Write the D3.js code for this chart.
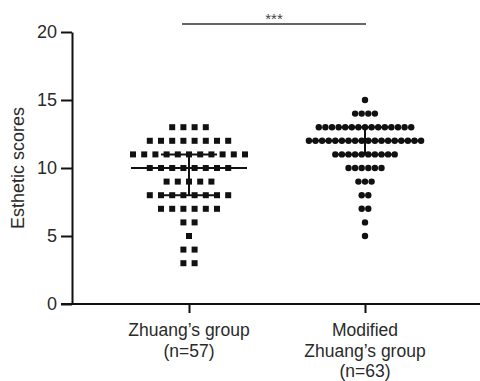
<!DOCTYPE html>
<html><head><meta charset="utf-8">
<script src="https://cdn.jsdelivr.net/npm/d3@7"></script>
<style>body{margin:0;background:#fff}svg{display:block}text{font-family:"Liberation Sans",Arial,sans-serif}</style>
</head><body>
<script>
const categories = ["Zhuang's group", "Modified Zhuang's group"];
const categoryLines = [["Zhuang\u2019s group", "(n=57)"], ["Modified", "Zhuang\u2019s group", "(n=63)"]];
const yTicks = [0, 5, 10, 15, 20];
// score rows and number of patients at each score
const g1Scores = [13, 12, 11, 10, 9, 8, 7, 6, 5, 4, 3];
const g1Counts = [4, 8, 11, 8, 5, 8, 6, 2, 1, 2, 2];
const g2Scores = [15, 14, 13, 12, 11, 10, 9, 8, 7, 6, 5];
const g2Counts = [1, 4, 15, 18, 10, 6, 3, 2, 2, 1, 1];
// median and interquartile range
const centers = [10, 12];
const lowers = [8, 11];
const uppers = [11, 13];
const sigLabel = "***";

const W = 480, H = 381;
const svg = d3.select("body").append("svg").attr("width", W).attr("height", H);
const y = d3.scaleLinear().domain([0, 20]).range([304, 32]);
const x = d3.scalePoint().domain(categories).range([189, 365]);
const ink = "#111", txt = "#2a2a2a";

// y axis
const yAxis = svg.append("g").attr("transform", "translate(72,0)")
  .call(d3.axisLeft(y).tickValues(yTicks).tickSize(11).tickPadding(4).tickSizeOuter(0));
yAxis.select(".domain").attr("stroke", ink).attr("stroke-width", 2);
yAxis.selectAll(".tick line").attr("stroke", ink).attr("stroke-width", 2);
yAxis.selectAll(".tick text").attr("font-size", 18).attr("fill", txt)
  .attr("font-family", "Liberation Sans, Arial, sans-serif");

// x axis
const xAxis = svg.append("g").attr("transform", "translate(0,304)")
  .call(d3.axisBottom(x).tickSize(9).tickSizeOuter(0).tickFormat(""));
xAxis.select(".domain").remove();
xAxis.selectAll(".tick line").attr("stroke", ink).attr("stroke-width", 2);
svg.append("line").attr("x1", 61).attr("x2", 480).attr("y1", 304).attr("y2", 304)
  .attr("stroke", ink).attr("stroke-width", 2);

categories.forEach((c, i) => {
  const t = svg.append("text").attr("text-anchor", "middle").attr("font-size", 17.5).attr("fill", txt);
  categoryLines[i].forEach((ln, j) => {
    t.append("tspan").attr("x", x(c)).attr("y", 336 + j * 20.5).text(ln);
  });
});

// y label
svg.append("text").attr("transform", "translate(24," + y(10) + ") rotate(-90)")
  .attr("text-anchor", "middle").attr("font-size", 18).attr("fill", txt).text("Esthetic scores");

// median / IQR lines
categories.forEach((c, i) => {
  const cx = x(c);
  const g = svg.append("g").attr("stroke", ink).attr("stroke-width", 2);
  g.append("line").attr("x1", cx - 58).attr("x2", cx + 58).attr("y1", y(centers[i])).attr("y2", y(centers[i]));
  g.append("line").attr("x1", cx - 28).attr("x2", cx + 28).attr("y1", y(uppers[i])).attr("y2", y(uppers[i]));
  g.append("line").attr("x1", cx - 28).attr("x2", cx + 28).attr("y1", y(lowers[i])).attr("y2", y(lowers[i]));
  g.append("line").attr("x1", cx).attr("x2", cx).attr("y1", y(uppers[i])).attr("y2", y(lowers[i]));
});

// group 1 squares
const sq = [];
g1Scores.forEach((s, r) => {
  const n = g1Counts[r];
  for (let k = 0; k < n; k++) sq.push({ v: s, off: (k - (n - 1) / 2) * 11.2 });
});
svg.append("g").selectAll("rect").data(sq).join("rect")
  .attr("x", d => x(categories[0]) + d.off - 3).attr("y", d => y(d.v) - 3)
  .attr("width", 6).attr("height", 6).attr("fill", ink);

// group 2 circles
const dots = [];
g2Scores.forEach((s, r) => {
  const n = g2Counts[r];
  for (let k = 0; k < n; k++) dots.push({ v: s, off: (k - (n - 1) / 2) * 6.6 });
});
svg.append("g").selectAll("circle").data(dots).join("circle")
  .attr("cx", d => x(categories[1]) + d.off).attr("cy", d => y(d.v))
  .attr("r", 3.2).attr("fill", ink);

// significance
svg.append("line").attr("x1", 182).attr("x2", 366).attr("y1", 24).attr("y2", 24)
  .attr("stroke", "#333").attr("stroke-width", 1.3);
svg.append("text").attr("x", 274).attr("y", 24).attr("text-anchor", "middle")
  .attr("font-size", 15).attr("fill", "#444").text(sigLabel);
</script>
</body></html>
